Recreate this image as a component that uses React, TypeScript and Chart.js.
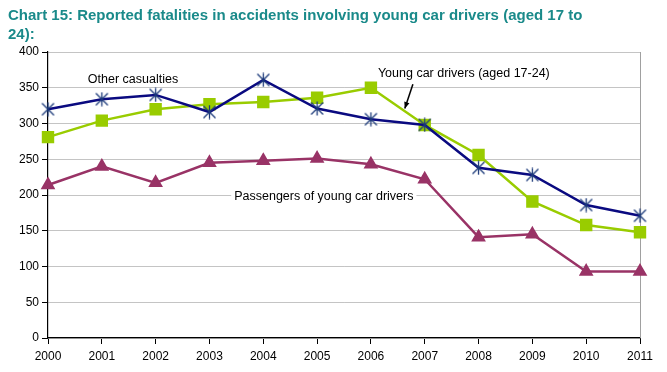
import React, { useEffect, useRef } from "react";
import { Chart, registerables } from "chart.js";

Chart.register(...registerables);

const years = ["2000", "2001", "2002", "2003", "2004", "2005", "2006", "2007", "2008", "2009", "2010", "2011"];
const otherCasualties = [320, 334, 340, 316, 361, 321, 306, 298, 238, 228, 186, 171];
const youngDrivers = [281, 304, 320, 327, 330, 336, 350, 298, 256, 191, 158, 148];
const passengers = [214, 240, 217, 245, 248, 251, 243, 222, 141, 145, 93, 93];
const titleLines = ["Chart 15: Reported fatalities in accidents involving young car drivers (aged 17 to", "24):"];

const NAVY = "#0a0a80";
const GREEN = "#99cc00";
const PURPLE = "#993366";
const FONT = "'Liberation Sans', Arial, sans-serif";

function makeStar(): HTMLCanvasElement {
  const c = document.createElement("canvas");
  c.width = 15;
  c.height = 15;
  const ctx = c.getContext("2d")!;
  ctx.strokeStyle = "#1c3a7a";
  ctx.lineWidth = 1.3;
  ctx.beginPath();
  ctx.moveTo(1.5, 1.5); ctx.lineTo(13.5, 13.5);
  ctx.moveTo(13.5, 1.5); ctx.lineTo(1.5, 13.5);
  ctx.moveTo(7.5, 0.5); ctx.lineTo(7.5, 14.5);
  ctx.stroke();
  return c;
}

export default function App() {
  const ref = useRef<HTMLCanvasElement>(null);
  useEffect(() => {
    const star = makeStar();
    const annot = {
      id: "annot",
      beforeDatasetsDraw(chart: any) {
        const { ctx, chartArea } = chart;
        const xs = chart.scales.x;
        const ys = chart.scales.y;
        ctx.save();
        ctx.strokeStyle = "#a0a0a0";
        ctx.lineWidth = 1;
        ctx.beginPath();
        ctx.moveTo(Math.round(chartArea.right) + 0.5, chartArea.top);
        ctx.lineTo(Math.round(chartArea.right) + 0.5, chartArea.bottom);
        ctx.stroke();
        ctx.font = `12.5px ${FONT}`;
        ctx.textBaseline = "middle";
        ctx.textAlign = "left";
        const px = xs.getPixelForValue(3.46);
        const py = ys.getPixelForValue(198);
        const txt = "Passengers of young car drivers";
        const w = ctx.measureText(txt).width;
        ctx.fillStyle = "#fff";
        ctx.fillRect(px - 3, py - 8, w + 6, 16);
        ctx.fillStyle = "#000";
        ctx.fillText(txt, px, py);
        ctx.fillText("Other casualties", xs.getPixelForValue(0.74), ys.getPixelForValue(362));
        ctx.fillText("Young car drivers (aged 17-24)", xs.getPixelForValue(6.13), ys.getPixelForValue(370));
        const x1 = xs.getPixelForValue(6.78), y1 = ys.getPixelForValue(355);
        const x2 = xs.getPixelForValue(6.63), y2 = ys.getPixelForValue(321);
        ctx.strokeStyle = "#000";
        ctx.lineWidth = 1.5;
        ctx.beginPath();
        ctx.moveTo(x1, y1);
        ctx.lineTo(x2, y2);
        ctx.stroke();
        const ang = Math.atan2(y2 - y1, x2 - x1);
        ctx.beginPath();
        ctx.moveTo(x2, y2);
        ctx.lineTo(x2 - 7 * Math.cos(ang - 0.4), y2 - 7 * Math.sin(ang - 0.4));
        ctx.lineTo(x2 - 7 * Math.cos(ang + 0.4), y2 - 7 * Math.sin(ang + 0.4));
        ctx.closePath();
        ctx.fillStyle = "#000";
        ctx.fill();
        ctx.restore();
      },
      afterDraw(chart: any) {
        const { ctx } = chart;
        ctx.save();
        ctx.font = `bold 15px ${FONT}`;
        ctx.fillStyle = "#1a8a8a";
        ctx.textBaseline = "middle";
        ctx.textAlign = "left";
        ctx.fillText(titleLines[0], 8, 16);
        ctx.fillText(titleLines[1], 8, 35);
        ctx.restore();
      },
    };
    const chart = new Chart(ref.current!, {
      type: "line",
      data: {
        labels: years,
        datasets: [
          {
            label: "Other casualties",
            data: otherCasualties,
            borderColor: NAVY,
            backgroundColor: NAVY,
            borderWidth: 2.5,
            pointStyle: star as any,
            pointRadius: 7,
          },
          {
            label: "Young car drivers (aged 17-24)",
            data: youngDrivers,
            borderColor: GREEN,
            backgroundColor: GREEN,
            borderWidth: 2.5,
            pointStyle: "rect",
            pointRadius: 7,
          },
          {
            label: "Passengers of young car drivers",
            data: passengers,
            borderColor: PURPLE,
            backgroundColor: PURPLE,
            borderWidth: 2.5,
            pointStyle: "triangle",
            pointRadius: 6,
          },
        ],
      },
      options: {
        animation: false,
        responsive: false,
        maintainAspectRatio: false,
        layout: { padding: { top: 52, right: 27, left: 0, bottom: 0 } },
        plugins: { legend: { display: false }, tooltip: { enabled: false }, title: { display: false } },
        scales: {
          x: {
            offset: false,
            grid: { drawOnChartArea: false, tickColor: "#000", tickLength: 6 },
            border: { color: "#000", width: 1.2 },
            ticks: { color: "#000", font: { size: 12, family: FONT }, maxRotation: 0, autoSkip: false, padding: 5 },
            afterFit: (s: any) => { s.height = 34; },
          },
          y: {
            min: 0,
            max: 400,
            grid: { color: "#c4c4c4", tickColor: "#000", tickLength: 6 },
            border: { color: "#000", width: 1.2 },
            ticks: { stepSize: 50, color: "#000", font: { size: 12, family: FONT }, padding: 3 },
            afterFit: (s: any) => { s.width = 48; },
          },
        },
      },
      plugins: [annot],
    });
    return () => chart.destroy();
  }, []);
  return (
    <div style={{ position: "fixed", left: 0, top: 0, width: 667, height: 372, background: "#fff" }}>
      <canvas ref={ref} width={667} height={372} style={{ width: 667, height: 372 }} />
    </div>
  );
}
